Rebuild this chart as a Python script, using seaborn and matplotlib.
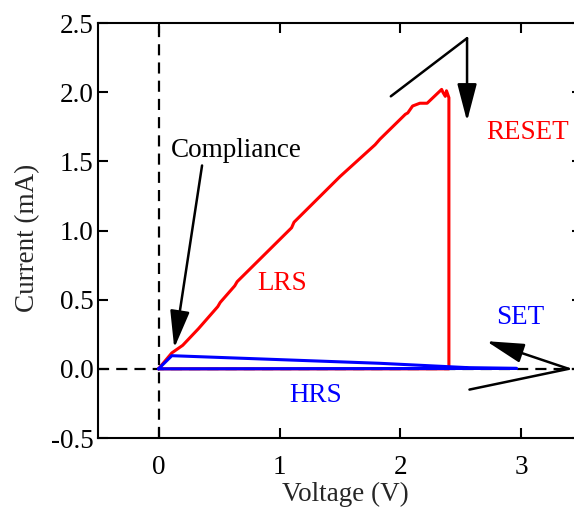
import matplotlib
matplotlib.use("Agg")
import matplotlib.pyplot as plt
import seaborn as sns
import pandas as pd

# ---- data ----
lrs_v = [0.0, 0.11, 0.20, 0.33, 0.35, 0.49, 0.51, 0.63, 0.65, 1.10, 1.12, 1.50,
         1.79, 1.81, 1.83, 2.04, 2.06, 2.10, 2.16, 2.22, 2.34, 2.35, 2.37, 2.38,
         2.40, 2.40, 1.20, 0.0]
lrs_i = [0.0, 0.115, 0.17, 0.29, 0.31, 0.45, 0.48, 0.60, 0.63, 1.02, 1.06, 1.39,
         1.62, 1.64, 1.66, 1.84, 1.85, 1.90, 1.92, 1.92, 2.02, 2.00, 1.97, 2.01,
         1.96, 0.0, 0.0, 0.0]

hrs_v = [0.0, 2.96, 2.57, 1.83, 0.11, 0.0]
hrs_i = [0.0, 0.003, 0.008, 0.04, 0.095, 0.0]

x_ticks = [0, 1, 2, 3]
y_ticks = [-0.5, 0.0, 0.5, 1.0, 1.5, 2.0, 2.5]
y_tick_labels = ["-0.5", "0.0", "0.5", "1.0", "1.5", "2.0", "2.5"]

# ---- style ----
sns.set_style("ticks")
plt.rcParams["font.family"] = ["Liberation Serif", "DejaVu Serif"]
FS = 19.5

fig = plt.figure(figsize=(5.74, 5.08), dpi=100)
W, H = 574, 508
left_px, right_px, top_px, bot_px = 98, 582, 23, 438
AW, AH = right_px - left_px, bot_px - top_px
ax = fig.add_axes([left_px / W, 1 - bot_px / H, AW / W, AH / H])

ax.set_xlim(-0.5, 3.5)
ax.set_ylim(-0.5, 2.5)

# dashed reference lines
ax.axhline(0, color="black", lw=1.6, ls=(0, (5.0, 3.2)), zorder=1)
ax.axvline(0, color="black", lw=1.6, ls=(0, (5.0, 3.2)), zorder=1)

df_lrs = pd.DataFrame({"V": lrs_v, "I": lrs_i})
df_hrs = pd.DataFrame({"V": hrs_v, "I": hrs_i})
sns.lineplot(data=df_lrs, x="V", y="I", sort=False, estimator=None, color="#ff0000",
             lw=2.2, ax=ax, zorder=3)
sns.lineplot(data=df_hrs, x="V", y="I", sort=False, estimator=None, color="#0000ff",
             lw=2.2, ax=ax, zorder=4)

# ticks / spines
ax.set_xticks(x_ticks)
ax.set_xticklabels([str(t) for t in x_ticks])
ax.set_yticks(y_ticks)
ax.set_yticklabels(y_tick_labels)
ax.tick_params(direction="in", length=7, width=1.5, labelsize=FS, top=True, right=True,
               colors="black")
ax.tick_params(axis="x", pad=12)
ax.tick_params(axis="y", pad=3)
for s in ax.spines.values():
    s.set_linewidth(1.5)
    s.set_color("black")
    s.set_visible(True)

ax.set_xlabel("Voltage (V)", fontsize=FS)
ax.set_ylabel("Current (mA)", fontsize=FS)
ax.xaxis.set_label_coords((345 - left_px) / AW, -(482 - bot_px) / AH)
ax.yaxis.set_label_coords(-(left_px - 40) / AW, 0.5 - (238 - (top_px + bot_px) / 2) / AH)

# annotations text
ax.text(0.646, 1.576, "Compliance", fontsize=FS, color="black", ha="center", va="center")
ax.text(1.02, 0.62, "LRS", fontsize=FS, color="#ff0000", ha="center", va="center")
ax.text(1.30, -0.19, "HRS", fontsize=FS, color="#0000ff", ha="center", va="center")
ax.text(3.05, 1.71, "RESET", fontsize=FS, color="#ff0000", ha="center", va="center")
ax.text(2.99, 0.37, "SET", fontsize=FS, color="#0000ff", ha="center", va="center")

astyle = "-|>,head_length=1.15,head_width=0.3"
akw = dict(arrowstyle=astyle, color="black", lw=1.8, mutation_scale=20, shrinkA=0, shrinkB=0)

# Compliance arrow
ax.annotate("", xy=(0.13, 0.15), xytext=(0.36, 1.47), arrowprops=akw, zorder=5)
# RESET bent arrow
ax.plot([1.92, 2.55], [1.97, 2.39], color="black", lw=1.8, zorder=5)
ax.annotate("", xy=(2.55, 1.79), xytext=(2.55, 2.39), arrowprops=akw, zorder=5)
# SET bent arrow
ax.plot([2.57, 3.39], [-0.15, 0.0], color="black", lw=1.8, zorder=5)
ax.annotate("", xy=(2.71, 0.20), xytext=(3.39, 0.0), arrowprops=akw, zorder=5)

fig.savefig("out.png", dpi=100)
